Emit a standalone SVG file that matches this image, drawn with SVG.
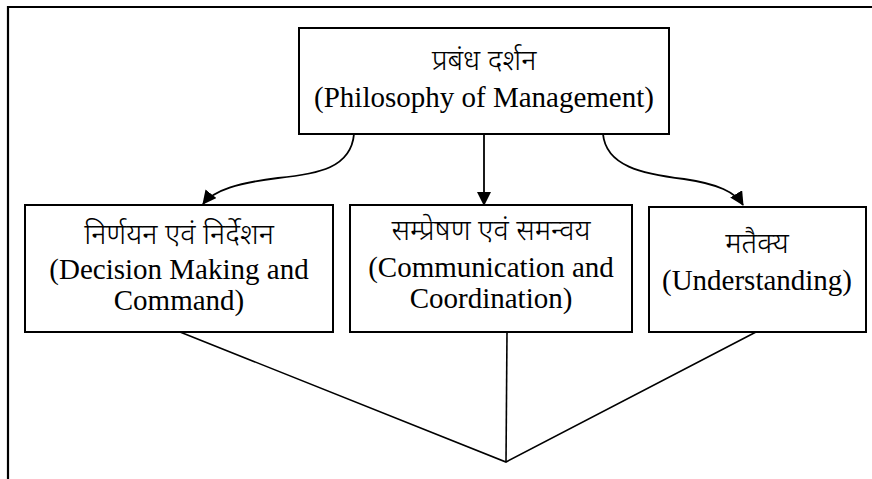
<svg xmlns="http://www.w3.org/2000/svg" width="872" height="479" viewBox="0 0 872 479">
  <style>
    .box { fill: #ffffff; stroke: #000000; stroke-width: 2; }
    .frame { fill: none; stroke: #000000; stroke-width: 2.2; }
    .link { fill: none; stroke: #000000; stroke-width: 1.8; }
    .join { fill: none; stroke: #000000; stroke-width: 1.6; }
    .en { font-family: 'Liberation Serif', 'Times New Roman', 'DejaVu Serif', serif; font-size: 29px; fill: #000000; text-anchor: middle; }
    .hi { font-family: 'Noto Sans Devanagari', 'Noto Serif Devanagari', 'Lohit Devanagari', Mangal, 'Noto Sans', sans-serif; font-size: 29px; font-weight: 300; fill: #000000; text-anchor: middle; }
  </style>
  <defs>
    <marker id="arrow" viewBox="0 0 14 14" refX="13" refY="7" markerWidth="14" markerHeight="14" markerUnits="userSpaceOnUse" orient="auto">
      <path d="M0,0 L14,7 L0,14 Z" fill="#000000"/>
    </marker>
  </defs>
  <rect width="872" height="479" fill="#ffffff"/>

  <!-- page frame: top and left edges -->
  <path class="frame" d="M8,479 L8,7 L872,7"/>

  <!-- connectors -->
  <g id="connectors">
    <path class="link" d="M354,134 C351,168 318,174 278,178 C238,183 214,190 203,204" marker-end="url(#arrow)"/>
    <path class="link" d="M484,134 L484,205" marker-end="url(#arrow)"/>
    <path class="link" d="M603,134 C606,166 642,174 684,179 C718,184 735,192 743,205" marker-end="url(#arrow)"/>
    <path class="join" d="M180,332 L506,462 L756,332"/>
    <path class="join" d="M507,332 L506,462"/>
  </g>

  <g id="philosophy">
    <rect class="box" x="299" y="28" width="370" height="106"/>
    <text class="hi" x="484" y="70">प्रबंध दर्शन</text>
    <text class="en" x="484" y="107">(Philosophy of Management)</text>
  </g>

  <g id="decision">
    <rect class="box" x="25" y="205" width="308" height="127"/>
    <text class="hi" x="179" y="244">निर्णयन एवं निर्देशन</text>
    <text class="en" x="179" y="279">(Decision Making and</text>
    <text class="en" x="179" y="310">Command)</text>
  </g>

  <g id="communication">
    <rect class="box" x="350" y="205" width="282" height="127"/>
    <text class="hi" x="491" y="240">सम्प्रेषण एवं समन्वय</text>
    <text class="en" x="491" y="277">(Communication and</text>
    <text class="en" x="491" y="308">Coordination)</text>
  </g>

  <g id="understanding">
    <rect class="box" x="649" y="207" width="217" height="125"/>
    <text class="hi" x="757" y="253">मतैक्य</text>
    <text class="en" x="757" y="290">(Understanding)</text>
  </g>
</svg>
